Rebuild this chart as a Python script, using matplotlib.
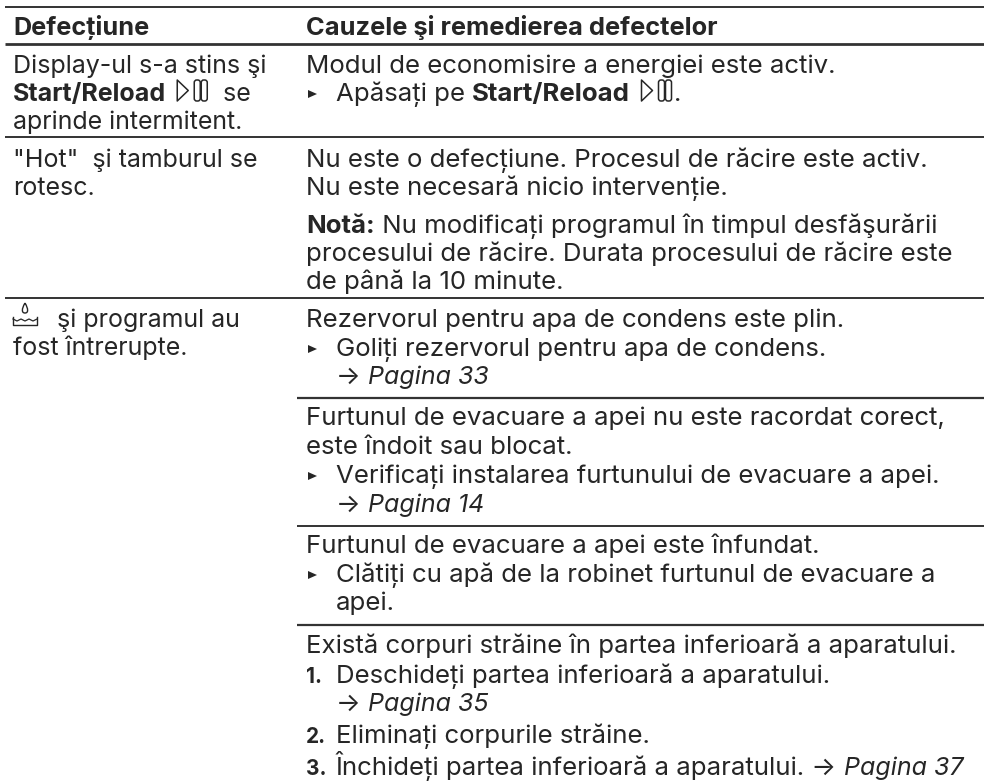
import matplotlib
matplotlib.use("Agg")
import matplotlib.pyplot as plt
from matplotlib.patches import Polygon, FancyBboxPatch, Ellipse, PathPatch
from matplotlib.path import Path
from matplotlib.font_manager import FontProperties

FAMILY = "Inter"
LEFT_SIZE = 18.0
RIGHT_SIZE = 18.6
ITALIC_SIZE = 18.0
HEAD_LEFT_SIZE = 18.2
HEAD_RIGHT_SIZE = 18.3
INK = "#262626"

R, B, I = "normal", "bold", "italic"

header_left = [("Defecțiune", B)]
header_right = [("Cauzele şi remedierea defectelor", B)]

left_rows = [
    [[("Display-ul s-a stins şi", R)],
     [("Start/Reload", B), (" ", R), ("@play", R), ("  se", R)],
     [("aprinde intermitent.", R)]],
    [[('"Hot"  şi tamburul se', R)],
     [("rotesc.", R)]],
    [[("@water", R), ("  şi programul au", R)],
     [("fost întrerupte.", R)]],
]

right_blocks = [
    [[("Modul de economisire a energiei este activ.", R)],
     [("@bullet", R), ("Apăsați pe ", R), ("Start/Reload", B), (" ", R), ("@play", R), (".", R)]],
    [[("Nu este o defecțiune. Procesul de răcire este activ.", R)],
     [("Nu este necesară nicio intervenție.", R)]],
    [[("Notă:", B), (" Nu modificați programul în timpul desfăşurării", R)],
     [("procesului de răcire. Durata procesului de răcire este", R)],
     [("de până la 10 minute.", R)]],
    [[("Rezervorul pentru apa de condens este plin.", R)],
     [("@bullet", R), ("Goliți rezervorul pentru apa de condens.", R)],
     [("@indent", R), ("→ ", R), ("Pagina 33", I)]],
    [[("Furtunul de evacuare a apei nu este racordat corect,", R)],
     [("este îndoit sau blocat.", R)],
     [("@bullet", R), ("Verificați instalarea furtunului de evacuare a apei.", R)],
     [("@indent", R), ("→ ", R), ("Pagina 14", I)]],
    [[("Furtunul de evacuare a apei este înfundat.", R)],
     [("@bullet", R), ("Clătiți cu apă de la robinet furtunul de evacuare a", R)],
     [("@indent", R), ("apei.", R)]],
    [[("Există corpuri străine în partea inferioară a aparatului.", R)],
     [("@n1", R), ("Deschideți partea inferioară a aparatului.", R)],
     [("@indent", R), ("→ ", R), ("Pagina 35", I)],
     [("@n2", R), ("Eliminați corpurile străine.", R)],
     [("@n3", R), ("Închideți partea inferioară a aparatului. → ", R), ("Pagina 37", I)]],
]

left_baselines = [[73, 101, 129], [167, 195], [327, 355]]
right_baselines = [[73, 101], [167, 195], [233, 261, 289], [327, 356, 384],
                   [425, 454, 483, 512], [553, 582, 610], [653, 683, 711, 743, 775]]
full_rules = [(7, 1.4), (44, 2.0), (137, 1.4), (298, 1.4)]
right_rules = [(398, 1.6), (526, 1.4), (625, 1.6)]

fig = plt.figure(figsize=(9.84, 7.82), dpi=100)
ax = fig.add_axes([0, 0, 1, 1])
ax.set_xlim(0, 984)
ax.set_ylim(782, 0)
ax.axis("off")
renderer = fig.canvas.get_renderer()
INDENT = 336


def font(style, size):
    return FontProperties(family=FAMILY,
                          weight="bold" if style == B else "normal",
                          style="italic" if style == I else "normal",
                          size=ITALIC_SIZE if style == I else size)


def advance(s, style, size):
    f = font(style, size)
    a = renderer.get_text_width_height_descent("|" + s + "|", f, False)[0]
    b = renderer.get_text_width_height_descent("||", f, False)[0]
    return a - b


def play_icon(x, y):
    # triangle followed by two rounded pause bars
    x0 = x + 4
    ax.add_patch(Polygon([(x0, y - 21), (x0 + 11, y - 10.5), (x0, y)], closed=True, fill=False,
                         ec=INK, lw=1.1, joinstyle="round"))
    for dx in (17, 24):
        ax.add_patch(FancyBboxPatch((x0 + dx + 1.5, y - 19.5), 3, 18,
                                    boxstyle="round,pad=1.5,rounding_size=2.5",
                                    fill=False, ec=INK, lw=1.1))
    return 36


def water_icon(x, y):
    ax.plot([x, x, x + 24, x + 24], [y - 10, y - 2, y - 2, y - 10], color=INK, lw=1.0)
    ax.plot([x, x + 4, x + 8, x + 12, x + 16, x + 20, x + 24],
            [y - 8, y - 6, y - 8, y - 6, y - 8, y - 6, y - 8], color=INK, lw=0.9)
    drop = Path([(x + 12, y - 24), (x + 8.5, y - 18), (x + 8.5, y - 14), (x + 12, y - 14),
                 (x + 15.5, y - 14), (x + 15.5, y - 18), (x + 12, y - 24)],
                [Path.MOVETO, Path.CURVE4, Path.CURVE4, Path.CURVE4,
                 Path.CURVE4, Path.CURVE4, Path.CURVE4])
    ax.add_patch(PathPatch(drop, fill=False, ec=INK, lw=1.0, joinstyle="round"))
    return 30


def draw_line(x0, base, runs, size):
    x = x0
    for s, style in runs:
        if s == "@bullet":
            ax.add_patch(Polygon([(x + 2, base - 11), (x + 11, base - 7), (x + 2, base - 3)],
                                 closed=True, fc=INK, ec="none"))
            x = INDENT
        elif s == "@indent":
            x = INDENT
        elif s in ("@n1", "@n2", "@n3"):
            ax.text(x, base, s[2] + ".", family=FAMILY, weight="bold", size=15,
                    color=INK, va="baseline", ha="left")
            x = INDENT
        elif s == "@play":
            x += play_icon(x, base)
        elif s == "@water":
            x += water_icon(x, base)
        else:
            ax.text(x, base, s, fontproperties=font(style, size), color=INK,
                    va="baseline", ha="left")
            x += advance(s, style, size)
    return x


draw_line(13, 35, header_left, HEAD_LEFT_SIZE)
draw_line(306, 35, header_right, HEAD_RIGHT_SIZE)
for lines, bases in zip(left_rows, left_baselines):
    for runs, b in zip(lines, bases):
        draw_line(13, b, runs, LEFT_SIZE)
for lines, bases in zip(right_blocks, right_baselines):
    for runs, b in zip(lines, bases):
        draw_line(306, b, runs, RIGHT_SIZE)

for y, lw in full_rules:
    ax.plot([5, 984], [y, y], color="#333333", lw=lw, solid_capstyle="butt")
for y, lw in right_rules:
    ax.plot([297, 984], [y, y], color="#333333", lw=lw, solid_capstyle="butt")

fig.savefig("out.png", dpi=100)
